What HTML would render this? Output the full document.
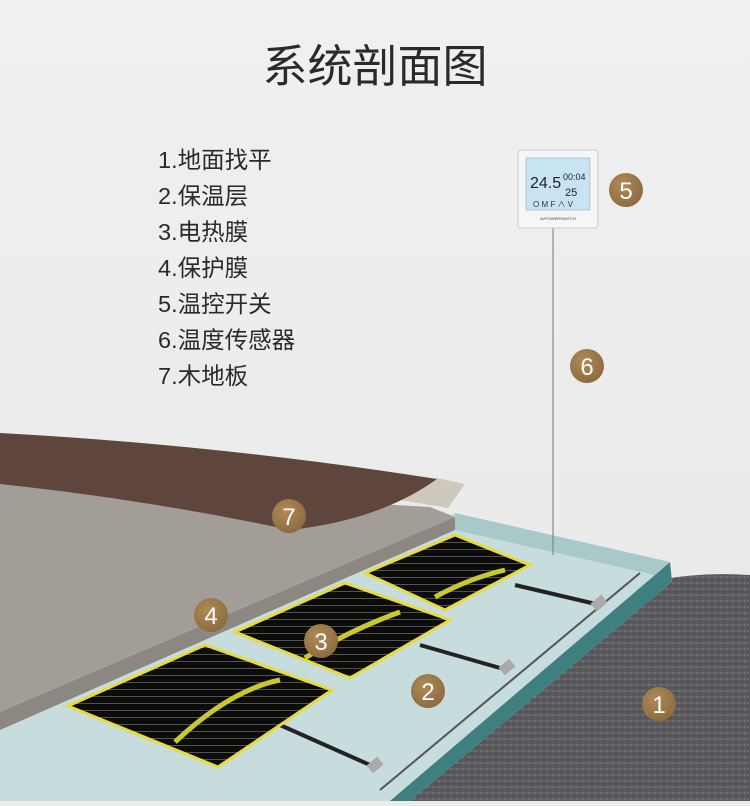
<!DOCTYPE html>
<html><head><meta charset="utf-8"><style>
body{margin:0;width:750px;height:801px;overflow:hidden;background:#ebebeb;font-family:"Liberation Sans","Noto Sans CJK SC",sans-serif}
</style></head><body>
<svg width="750" height="801" viewBox="0 0 750 801" xmlns="http://www.w3.org/2000/svg">
<defs>
<linearGradient id="bg" x1="0" y1="0" x2="0" y2="1"><stop offset="0" stop-color="#f0f0f0"/><stop offset="1" stop-color="#e8e8e8"/></linearGradient>
<pattern id="gran" width="6" height="6" patternUnits="userSpaceOnUse"><rect width="6" height="6" fill="#5a5a5e"/><circle cx="1" cy="1" r="0.8" fill="#8a8a8e"/><circle cx="4" cy="4" r="0.7" fill="#3c3c40"/><circle cx="4" cy="1" r="0.5" fill="#9a9a9e"/></pattern>
<pattern id="lines" width="8" height="7" patternUnits="userSpaceOnUse"><rect width="8" height="7" fill="#0c0c0a"/><line x1="0" y1="3.5" x2="8" y2="3.5" stroke="#999" stroke-width="0.5"/></pattern>
<radialGradient id="cb" cx="0.4" cy="0.35" r="0.7"><stop offset="0" stop-color="#b08a58"/><stop offset="1" stop-color="#8a6a3e"/></radialGradient>
</defs>
<rect width="750" height="801" fill="url(#bg)"/>
<text x="375" y="82" text-anchor="middle" font-size="45" fill="#2a2a2a">系统剖面图</text>
<g font-size="23.5" fill="#2a2a2a">
<text x="158" y="168">1.地面找平</text>
<text x="158" y="204">2.保温层</text>
<text x="158" y="240">3.电热膜</text>
<text x="158" y="276">4.保护膜</text>
<text x="158" y="312">5.温控开关</text>
<text x="158" y="348">6.温度传感器</text>
<text x="158" y="384">7.木地板</text>
</g>
<path d="M660 580 Q700 572 750 575 L750 801 L400 801 Z" fill="url(#gran)"/>
<path d="M455 513 L670 562 L672 582 L410 801 L0 801 L0 730 Z" fill="#c7dcdc"/>
<path d="M670 562 L672 582 L410 801 L390 801 L655 575 Z" fill="#3f7f80"/>
<path d="M455 513 L670 562 L655 575 L455 530 Z" fill="#a9c9c8"/>
<line x1="553" y1="228" x2="553" y2="555" stroke="#777" stroke-width="1"/>
<line x1="640" y1="573" x2="380" y2="790" stroke="#555" stroke-width="2"/>
<g stroke="#222" stroke-width="4" fill="none">
<path d="M515 585 L600 605"/><path d="M420 645 L500 668"/><path d="M280 725 L370 765"/>
</g>
<g fill="#aaa"><rect x="592" y="598" width="14" height="10" transform="rotate(-40 599 603)"/><rect x="500" y="662" width="14" height="10" transform="rotate(-40 507 667)"/><rect x="368" y="760" width="14" height="10" transform="rotate(-40 375 765)"/></g>
<g stroke="#e6dc40" stroke-width="3">
<path d="M365 573 L455 535 L530 565 L445 610 Z" fill="url(#lines)"/>
<path d="M235 632 L345 583 L450 620 L350 678 Z" fill="url(#lines)"/>
<path d="M68 706 L205 645 L332 690 L218 767 Z" fill="url(#lines)"/>
</g>
<g stroke="#c8c830" stroke-width="5" fill="none">
<path d="M175 742 Q230 690 280 680"/><path d="M305 658 Q350 630 400 612"/><path d="M435 597 Q470 578 505 570"/>
</g>
<path d="M0 482 L430 507 L455 517 L0 712 Z" fill="#a39d97"/>
<path d="M455 517 L455 530 L0 730 L0 712 Z" fill="#8d8781"/>
<path d="M437 478 L465 484 L448 508 L400 500 Z" fill="#cfc8bc"/>
<path d="M0 433 Q220 445 437 479 Q380 520 290 530 Q150 500 0 484 Z" fill="#5e463c"/>
<rect x="518" y="150" width="80" height="78" rx="3" fill="#f4f6f8" stroke="#ccc"/>
<rect x="526" y="158" width="64" height="52" fill="#c8e4f2" stroke="#999" stroke-width="0.5"/>
<text x="530" y="188" font-size="16" fill="#223">24.5</text>
<text x="563" y="180" font-size="9" fill="#223">00:04</text>
<text x="565" y="196" font-size="11" fill="#223">25</text>
<text x="533" y="207" font-size="8" fill="#335">O M F ∧ V</text>
<text x="558" y="220" font-size="4" text-anchor="middle" fill="#444">AVPOWERSWITCH</text>
<g font-size="24" fill="#fff" text-anchor="middle">
<circle cx="626" cy="190" r="17" fill="url(#cb)"/><text x="626" y="199">5</text>
<circle cx="587" cy="366" r="17" fill="url(#cb)"/><text x="587" y="375">6</text>
<circle cx="289" cy="516" r="17" fill="url(#cb)"/><text x="289" y="525">7</text>
<circle cx="211" cy="615" r="17" fill="url(#cb)"/><text x="211" y="624">4</text>
<circle cx="321" cy="641" r="17" fill="url(#cb)"/><text x="321" y="650">3</text>
<circle cx="428" cy="691" r="17" fill="url(#cb)"/><text x="428" y="700">2</text>
<circle cx="659" cy="704" r="17" fill="url(#cb)"/><text x="659" y="713">1</text>
</g>
</svg>
</body></html>
